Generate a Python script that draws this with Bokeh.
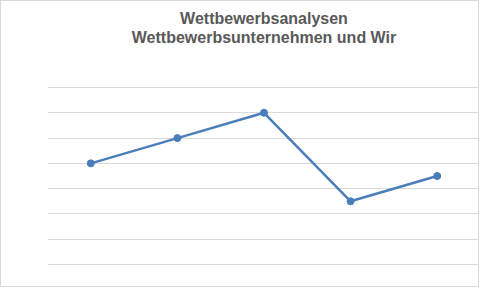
from bokeh.plotting import figure
from bokeh.models import FactorRange, Range1d, InlineStyleSheet, SingleIntervalTicker, Title
from bokeh.embed import file_html
from bokeh.resources import INLINE

categories = ["1", "2", "3", "4", "5"]
values = [4, 5, 6, 2.5, 3.5]
title_lines = ["Wettbewerbsanalysen", "Wettbewerbsunternehmen und Wir"]

p = figure(width=479, height=287, output_backend="svg", toolbar_location=None,
           title=None,
           x_range=FactorRange(*categories, range_padding=0),
           y_range=Range1d(-0.04, 7.04),
           min_border_left=46, min_border_right=0,
           min_border_top=85, min_border_bottom=23)

# spacer between the frame and the two title lines
p.add_layout(Title(text=" ", standoff=0, text_font_size="35px"), "above")
for t in reversed(title_lines):
    p.add_layout(Title(text=t, align="center", offset=-23, standoff=0,
                       text_font="Liberation Sans", text_font_size="16px",
                       text_font_style="bold", text_color="#595959"), "above")

p.xaxis.visible = False
p.yaxis.visible = False
p.yaxis.ticker = SingleIntervalTicker(interval=1)
p.xgrid.grid_line_color = None
p.ygrid.grid_line_color = "#d9d9d9"
p.ygrid.grid_line_width = 1
p.outline_line_color = None
p.background_fill_color = "white"
p.border_fill_color = "white"

p.line(categories, values, line_color="#4a7ebb", line_width=2.5)
p.scatter(categories, values, size=7, fill_color="#4a7ebb", line_color="#4a7ebb")

p.stylesheets = [InlineStyleSheet(css=":host { border: 1px solid #d9d9d9; }")]

open("out.html", "w").write(file_html(p, INLINE))
